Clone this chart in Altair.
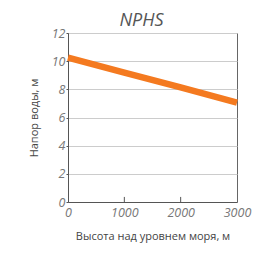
import altair as alt
import pandas as pd

altitude = [0, 1000, 2000, 3000]
head = [10.25, 9.18, 8.14, 7.05]
tick_positions = [1000, 2000]

df = pd.DataFrame({"alt": altitude, "head": head})
ticks = pd.DataFrame({"alt": tick_positions, "y0": [0, 0], "y1": [0.36, 0.36]})

FONT = "Open Sans"

xscale = alt.Scale(domain=[0, 3000], nice=False)
yscale = alt.Scale(domain=[0, 12], nice=False)

xaxis = alt.Axis(title="Высота над уровнем моря, м", values=[0, 1000, 2000, 3000],
                 format="d", labelFlush=False, ticks=False, grid=False,
                 labelPadding=4, titlePadding=12)
yaxis = alt.Axis(title="Напор воды, м", values=[0, 2, 4, 6, 8, 10, 12],
                 format="d", tickSize=2, labelPadding=1, labelFlush=False,
                 titlePadding=12, grid=True)

line = alt.Chart(df).mark_line(color="#f47a20", strokeWidth=6.5, strokeCap="butt").encode(
    x=alt.X("alt:Q", scale=xscale, axis=xaxis),
    y=alt.Y("head:Q", scale=yscale, axis=yaxis),
)

tick_rules = alt.Chart(ticks).mark_rule(color="#555555", strokeWidth=1).encode(
    x=alt.X("alt:Q", scale=xscale, axis=xaxis),
    y=alt.Y("y0:Q", scale=yscale, axis=yaxis),
    y2="y1:Q",
)

chart = alt.layer(line, tick_rules).properties(
    width=169, height=169,
    background="white",
    title=alt.TitleParams("NPHS", font=FONT, fontSize=18, fontStyle="italic",
                          fontWeight="normal", color="#555555", dx=-11, offset=-3),
    autosize=alt.AutoSizeParams(type="none"),
    padding={"left": 60, "top": 25, "right": 20, "bottom": 55},
).configure_view(
    stroke="#666666", strokeWidth=1
).configure_axis(
    labelFont=FONT, labelFontSize=12.5, labelFontStyle="italic", labelColor="#777777",
    titleFont=FONT, titleFontSize=11, titleFontWeight="normal", titleColor="#444444",
    domainColor="#555555", tickColor="#555555", gridColor="#cccccc", domainWidth=1,
)

chart.save("out.html", embed_options={"renderer": "svg", "actions": False})
